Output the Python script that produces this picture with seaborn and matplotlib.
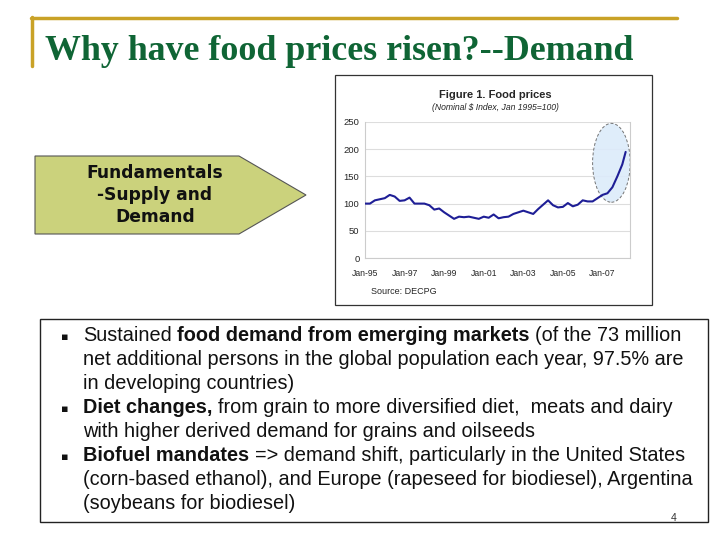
import numpy as np
import pandas as pd
import matplotlib
matplotlib.use("Agg")
import matplotlib.pyplot as plt
import seaborn as sns
from matplotlib.patches import Rectangle, Polygon, Ellipse
from matplotlib.lines import Line2D

# ---------------- data ----------------
years = [1995.00, 1995.25, 1995.50, 1995.75, 1996.00, 1996.25, 1996.50, 1996.75,
         1997.00, 1997.25, 1997.50, 1997.75, 1998.00, 1998.25, 1998.50, 1998.75,
         1999.00, 1999.25, 1999.50, 1999.75, 2000.00, 2000.25, 2000.50, 2000.75,
         2001.00, 2001.25, 2001.50, 2001.75, 2002.00, 2002.25, 2002.50, 2002.75,
         2003.00, 2003.25, 2003.50, 2003.75, 2004.00, 2004.25, 2004.50, 2004.75,
         2005.00, 2005.25, 2005.50, 2005.75, 2006.00, 2006.25, 2006.50, 2006.75,
         2007.00, 2007.25, 2007.50, 2007.75, 2008.00, 2008.17]
food_index = [100, 100, 106, 108, 110, 116, 113, 105,
              106, 111, 100, 100, 100, 97, 89, 91,
              84, 78, 72, 76, 75, 76, 74, 72,
              76, 74, 80, 73, 75, 76, 81, 84,
              87, 84, 81, 90, 98, 106, 97, 93,
              94, 101, 95, 98, 106, 104, 104, 110,
              116, 119, 130, 150, 172, 195]
x_tick_pos = [1995, 1997, 1999, 2001, 2003, 2005, 2007]
x_tick_labels = ["Jan-95", "Jan-97", "Jan-99", "Jan-01", "Jan-03", "Jan-05", "Jan-07"]
y_ticks = [0, 50, 100, 150, 200, 250]

title = "Why have food prices risen?--Demand"
arrow_text = "Fundamentals\n-Supply and\nDemand"
chart_title = "Figure 1. Food prices"
chart_sub = "(Nominal $ Index, Jan 1995=100)"
chart_source = "Source: DECPG"
bullet_lines = [
    (True, [("Sustained ", False), ("food demand from emerging markets", True), (" (of the 73 million", False)]),
    (False, [("net additional persons in the global population each year, 97.5% are", False)]),
    (False, [("in developing countries)", False)]),
    (True, [("Diet changes,", True), (" from grain to more diversified diet,  meats and dairy", False)]),
    (False, [("with higher derived demand for grains and oilseeds", False)]),
    (True, [("Biofuel mandates", True), (" => demand shift, particularly in the United States", False)]),
    (False, [("(corn-based ethanol), and Europe (rapeseed for biodiesel), Argentina", False)]),
    (False, [("(soybeans for biodiesel)", False)]),
]
page_number = "4"

# ---------------- figure ----------------
sns.set_style("white")
plt.rcParams["font.family"] = ["Liberation Sans", "DejaVu Sans"]
W, H = 720, 540
fig = plt.figure(figsize=(7.2, 5.4), dpi=100)
fig.patch.set_facecolor("white")

def fx(px):
    return px / W

def fy(py):
    return 1 - py / H

# gold header rule
gold = "#C9A227"
fig.add_artist(Line2D([fx(31), fx(677)], [fy(18), fy(18)], color=gold, lw=2.5))
fig.add_artist(Line2D([fx(32), fx(32)], [fy(17), fy(66)], color=gold, lw=2.5))

fig.text(fx(45), fy(60), title, fontsize=25.8, fontweight="bold",
         family=["Liberation Serif", "DejaVu Serif"], color="#0F6535", va="baseline", ha="left")

# pentagon arrow
pent = Polygon([[fx(35), fy(156)], [fx(239), fy(156)], [fx(306), fy(195)],
                [fx(239), fy(234)], [fx(35), fy(234)]], closed=True,
               facecolor="#CBD27C", edgecolor="#555555", lw=0.8, transform=fig.transFigure)
fig.add_artist(pent)
fig.text(fx(155), fy(195), arrow_text, fontsize=12.3, fontweight="bold",
         family=["DejaVu Sans"], ha="center", va="center", linespacing=1.25, color="#111111")

# chart frame
fig.add_artist(Rectangle((fx(335), fy(305)), fx(652) - fx(335), fy(75) - fy(305),
                         transform=fig.transFigure, facecolor="white", edgecolor="#333333", lw=0.9,
                         zorder=0.5))
fig.text(fx(495), fy(95), chart_title, fontsize=8, fontweight="bold", ha="center", va="center")
fig.text(fx(495), fy(108), chart_sub, fontsize=6.2, style="italic", ha="center", va="center")
fig.text(fx(371), fy(292), chart_source, fontsize=6.5, ha="left", va="center")

ax = fig.add_axes([fx(365), fy(258), fx(630) - fx(365), fy(122) - fy(258)])
ax.set_zorder(5)
df = pd.DataFrame({"year": years, "index": food_index})
ax.add_patch(Ellipse((2007.45, 175), 1.9, 145, facecolor="#DCEBFA", edgecolor="#666666",
                     lw=0.7, ls=(0, (3, 2)), zorder=1, clip_on=False, alpha=0.9))
sns.lineplot(data=df, x="year", y="index", ax=ax, color="#1E1E96", lw=1.5, zorder=3)
ax.set_xlim(1995, 2008.39)
ax.set_ylim(0, 250)
ax.set_yticks(y_ticks)
ax.set_yticklabels([str(v) for v in y_ticks], fontsize=6.8)
ax.set_xticks(x_tick_pos)
ax.set_xticklabels(x_tick_labels, fontsize=6.2)
ax.grid(axis="y", color="#DDDDDD", lw=0.8)
ax.set_axisbelow(True)
ax.set_xlabel("")
ax.set_ylabel("")
ax.spines["top"].set_visible(False)
for s in ["left", "right", "bottom"]:
    ax.spines[s].set_color("#CCCCCC")
    ax.spines[s].set_linewidth(0.8)
ax.tick_params(axis="x", length=3, color="#BBBBBB", pad=5)
ax.tick_params(axis="y", length=0, pad=4)
ax.set_facecolor("none")

# text box
fig.add_artist(Rectangle((fx(40), fy(522)), fx(708) - fx(40), fy(319) - fy(522),
                         transform=fig.transFigure, facecolor="white", edgecolor="#222222", lw=1.0,
                         zorder=0.5))

renderer = fig.canvas.get_renderer()
FS = 14.3

def width_px(s, bold):
    t = fig.text(0, 0, s, fontsize=FS, fontweight="bold" if bold else "normal")
    w = t.get_window_extent(renderer).width
    t.remove()
    return w

space_w = {b: width_px("a a", b) - width_px("aa", b) for b in (False, True)}

x0 = 83
for i, (has_bullet, runs) in enumerate(bullet_lines):
    yb = 341 + 24 * i
    if has_bullet:
        fig.text(fx(61), fy(yb - 1), "\u25aa", fontsize=8, family=["DejaVu Sans"],
                 va="baseline", ha="left", color="#111111")
    x = x0
    for s, b in runs:
        lead = len(s) - len(s.lstrip(" "))
        trail = len(s) - len(s.rstrip(" "))
        x += lead * space_w[b]
        core = s.strip(" ")
        fig.text(fx(x), fy(yb), core, fontsize=FS, fontweight="bold" if b else "normal",
                 va="baseline", ha="left", color="#111111")
        x += width_px(core, b) + trail * space_w[b]

fig.text(fx(674), fy(518), page_number, fontsize=7.5, ha="center", va="center", color="#333333")

fig.savefig("out.png", dpi=100)
